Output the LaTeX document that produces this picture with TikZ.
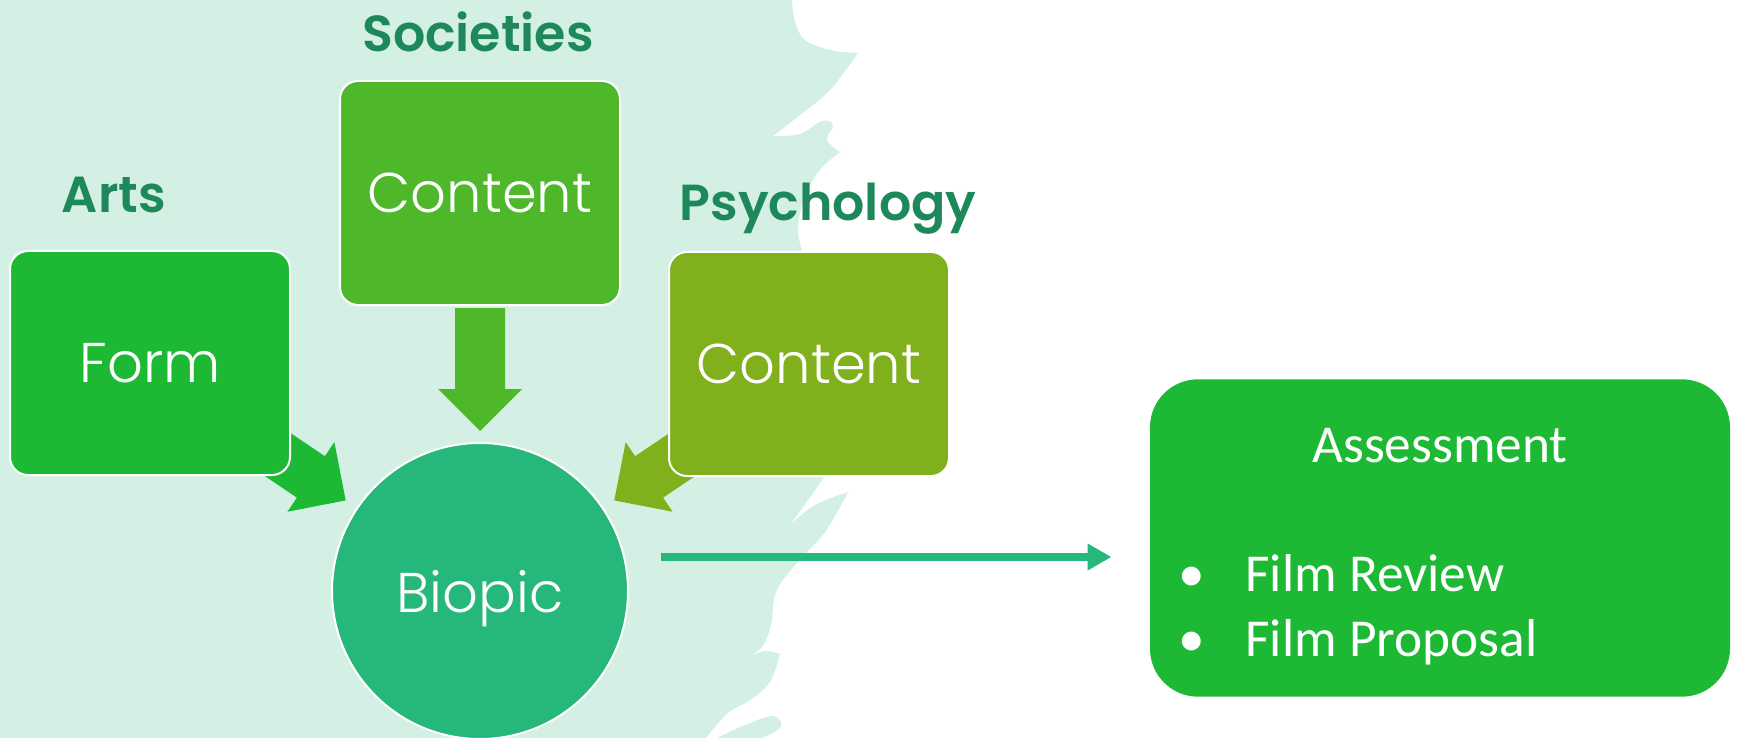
\documentclass[tikz,border=0pt]{standalone}
\usepackage{fontspec}
\setmainfont{Carlito}
\newfontfamily\gothicfont{Poppins SemiBold}
\newfontfamily\gothiclight{Poppins Light}
\usetikzlibrary{arrows.meta,calc}

\definecolor{mintbg}{RGB}{212,240,228}
\definecolor{formgreen}{RGB}{29,185,53}
\definecolor{socgreen}{RGB}{78,184,42}
\definecolor{psygreen}{RGB}{128,176,27}
\definecolor{biogreen}{RGB}{38,183,122}
\definecolor{labelgreen}{RGB}{29,136,90}

\tikzset{every picture/.style={line width=0.75pt}}
\tikzset{
  topicbox/.style={draw=white, line width=1.5pt, rounded corners=13.5pt, minimum width=210pt, minimum height=168pt, inner sep=0pt, text=white, font=\gothiclight\fontsize{42}{50}\selectfont},
  topiclabel/.style={anchor=base, inner sep=0pt, text=labelgreen, font=\gothicfont\fontsize{38}{46}\selectfont},
  assesstext/.style={anchor=base west, inner sep=0pt, text=white, font=\fontsize{40}{48}\selectfont},
}

\begin{document}
\begin{tikzpicture}[x=0.75pt,y=0.75pt,yscale=-1,xscale=1]

\useasboundingbox (0,0) rectangle (1743,738);
\fill [white] (0,0) rectangle (1743,738);

% brush background
\fill [mintbg] (0,0) -- plot [smooth, tension=0.6] coordinates {(792,0) (795,22) (805,40) (830,50) (858,53)}
  -- plot [smooth, tension=0.6] coordinates {(858,53) (830,90) (800,115) (773,136)}
  -- plot [smooth, tension=0.6] coordinates {(773,136) (800,134) (822,121) (833,125) (827,140) (840,152)}
  -- plot [smooth, tension=0.6] coordinates {(840,152) (818,172) (803,202) (798,230) (802,252) (812,300)}
  -- (825,476)
  -- plot [smooth, tension=0.6] coordinates {(825,476) (808,500) (790,525)}
  -- plot [smooth, tension=0.6] coordinates {(790,525) (815,505) (848,492)}
  -- plot [smooth, tension=0.6] coordinates {(848,492) (825,532) (795,565) (776,592) (771,625) (762,647) (747,657)}
  -- plot [smooth, tension=0.6] coordinates {(747,657) (765,651) (780,654)}
  -- plot [smooth, tension=0.6] coordinates {(780,654) (770,682) (750,700) (728,713) (706,738)}
  -- (0,738) -- cycle ;
\fill [mintbg] plot [smooth, tension=0.6] coordinates {(717,738) (745,725) (773,716) (781,727) (762,738)} -- cycle ;

\node [circle, draw=white, line width=1.5pt, fill=biogreen, minimum size=222pt, inner sep=0pt, text=white, text depth=0pt, font=\gothiclight\fontsize{42}{50}\selectfont] (biopic) at (480,591) {Biopic};

% side arrows into the circle
\begin{scope}[shift={(biopic.center)}, rotate=34]
\fill [formgreen] (-300,-25) -- (-204,-25) -- (-204,-42) -- (-162,0) -- (-204,42) -- (-204,25) -- (-300,25) -- cycle ;
\end{scope}
\begin{scope}[shift={(biopic.center)}, rotate=146]
\fill [psygreen] (-300,-25) -- (-204,-25) -- (-204,-42) -- (-162,0) -- (-204,42) -- (-204,25) -- (-300,25) -- cycle ;
\end{scope}

\node [topicbox, fill=formgreen] (form) at (150,363) {Form};
\node [topicbox, fill=socgreen] (soc) at (480,193) {Content};
\node [topicbox, fill=psygreen] (psy) at (809,364) {Content};

\fill [socgreen] ($(soc.south)+(-25,2)$) -- ++(50,0) -- ++(0,81) -- ++(17,0) -- ++(-42,42) -- ++(-42,-42) -- ++(17,0) -- cycle ;

\node [topiclabel] (artslabel) at (114,213) {Arts};
\node [topiclabel] (soclabel) at (478,52) {Societies};
\node [topiclabel] (psylabel) at (828,221) {Psychology};

\node [fill=formgreen, rounded corners=36pt, minimum width=435pt, minimum height=238pt] (assess) at (1440,538) {};

\draw [biogreen, line width=6pt, -{Triangle[length=18pt,width=19pt]}] ($(biopic.east)+(32,-34)$) -- ($(biopic.east -| assess.west)+(-38,-34)$) ;

\draw (1440,462) node [anchor=base, inner sep=0pt, text=white, font=\fontsize{40}{48}\selectfont] (assesstitle) {Assessment};
\node [assesstext] (bulletone) at (1178,591) {\textbullet};
\node [assesstext] (review) at (1245,591) {Film Review};
\node [assesstext] (bullettwo) at (1178,656) {\textbullet};
\node [assesstext] (proposal) at (1245,656) {Film Proposal};

\end{tikzpicture}
\end{document}
